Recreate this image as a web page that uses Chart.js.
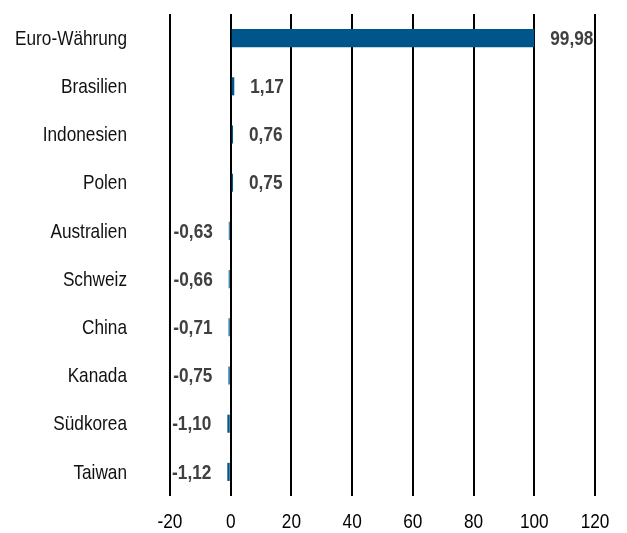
<!DOCTYPE html>
<html>
<head>
<meta charset="utf-8">
<script src="https://cdn.jsdelivr.net/npm/chart.js@4/dist/chart.umd.min.js"></script>
<style>
  html, body { margin: 0; padding: 0; background: #fff; }
  #wrap { width: 627px; height: 533px; }
</style>
</head>
<body>
<div id="wrap"><canvas id="chart" width="627" height="533"></canvas></div>
<script>
// Horizontal bar chart: currency weights.
var categories = ['Euro-Währung', 'Brasilien', 'Indonesien', 'Polen', 'Australien',
  'Schweiz', 'China', 'Kanada', 'Südkorea', 'Taiwan'];
var values = [99.98, 1.17, 0.76, 0.75, -0.63, -0.66, -0.71, -0.75, -1.10, -1.12];
var xTicks = [-20, 0, 20, 40, 60, 80, 100, 120];

var FONT = "'Liberation Sans', Arial, sans-serif";
var NARROW = 0.82; // squeeze to mimic Arial Narrow
var barColor = '#00558a';

function fmt(v) {
  return v.toFixed(2).replace('.', ',');
}

// Draw condensed text: no narrow face installed, so scale the context.
function narrowText(ctx, text, x, y, align) {
  ctx.save();
  ctx.translate(x, y);
  ctx.scale(NARROW, 1);
  ctx.textAlign = align;
  ctx.fillText(text, 0, 0);
  ctx.restore();
}

// Category names, x tick labels and value labels
var textLayer = {
  id: 'textLayer',
  afterDraw: function (chart) {
    var ctx = chart.ctx;
    var xs = chart.scales.x, ys = chart.scales.y;
    ctx.save();
    ctx.textBaseline = 'middle';

    ctx.font = '21px ' + FONT;
    ctx.fillStyle = '#111';
    categories.forEach(function (c, i) {
      narrowText(ctx, c, 127, ys.getPixelForValue(i) + 1, 'right');
    });

    ctx.fillStyle = '#000';
    xTicks.forEach(function (t) {
      narrowText(ctx, String(t), xs.getPixelForValue(t), 522, 'center');
    });

    ctx.font = 'bold 21px ' + FONT;
    ctx.fillStyle = '#404040';
    chart.getDatasetMeta(0).data.forEach(function (bar, i) {
      var v = values[i];
      if (v >= 0) narrowText(ctx, fmt(v), bar.x + 16, bar.y + 1, 'left');
      else narrowText(ctx, fmt(v), bar.x - 16, bar.y + 1, 'right');
    });
    ctx.restore();
  }
};

new Chart(document.getElementById('chart'), {
  type: 'bar',
  data: {
    labels: categories,
    datasets: [{
      data: values,
      backgroundColor: barColor,
      borderWidth: 0,
      barPercentage: 0.75,
      categoryPercentage: 0.5
    }]
  },
  options: {
    indexAxis: 'y',
    responsive: false,
    animation: false,
    layout: { padding: { top: 14, right: 32, bottom: 0, left: 0 } },
    plugins: { legend: { display: false }, tooltip: { enabled: false } },
    scales: {
      x: {
        min: -20,
        max: 120,
        afterBuildTicks: function (axis) {
          axis.ticks = xTicks.map(function (v) { return { value: v }; });
        },
        afterFit: function (axis) {
          axis.height = 37;
          axis.paddingLeft = 0;
          axis.paddingRight = 0;
        },
        grid: { color: '#000', lineWidth: 2, drawTicks: false },
        border: { display: false },
        ticks: { display: false }
      },
      y: {
        afterFit: function (axis) {
          axis.width = 170;
          axis.paddingTop = 0;
          axis.paddingBottom = 0;
        },
        grid: { display: false, drawTicks: false },
        border: { display: false },
        ticks: { display: false }
      }
    }
  },
  plugins: [textLayer]
});
</script>
</body>
</html>
